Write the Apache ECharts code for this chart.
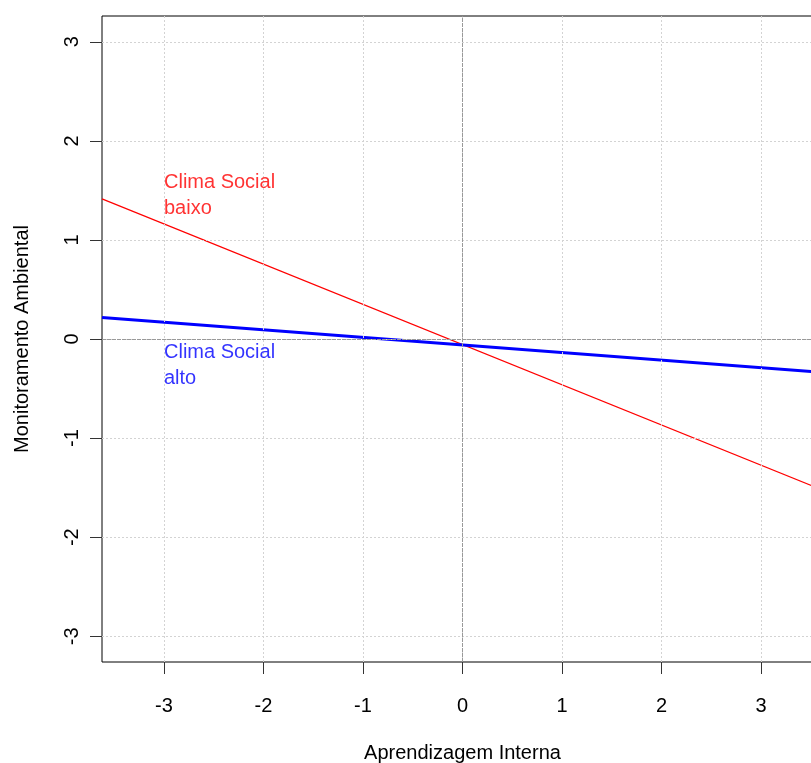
<!DOCTYPE html>
<html>
<head>
<meta charset="utf-8">
<script src="https://cdn.jsdelivr.net/npm/echarts@6/dist/echarts.min.js"></script>
<style>
  html, body { margin: 0; padding: 0; background: #fff; overflow: hidden; }
  #chart { width: 811px; height: 763px; }
</style>
</head>
<body>
<div id="chart"></div>
<script>
// Axis ranges and tick positions
const xRange = [-3.623, 3.623];
const yRange = [-3.26, 3.26];
const xTicks = [-3, -2, -1, 0, 1, 2, 3];
const yTicks = [-3, -2, -1, 0, 1, 2, 3];

// Simple slopes: Monitoramento Ambiental vs Aprendizagem Interna
const lowClimate = [[-3.623, 1.414], [3.623, -1.527]];   // Clima Social baixo
const highClimate = [[-3.623, 0.217], [3.623, -0.337]];  // Clima Social alto

// Line annotations: [x, y, text]
const lowLabel = [-3, 1.45, 'Clima Social\nbaixo'];
const highLabel = [-3, -0.27, 'Clima Social\nalto'];

const FONT = 'Liberation Sans, Arial, Helvetica, sans-serif';

const chart = echarts.init(document.getElementById('chart'), null, { renderer: 'canvas' });

const gridLines = [
  ...xTicks.map(v => ({ xAxis: v })),
  ...yTicks.map(v => ({ yAxis: v }))
];

function annotation(item, color) {
  return {
    type: 'scatter',
    data: [[item[0], item[1]]],
    symbolSize: 0,
    silent: true,
    z: 5,
    label: {
      show: true,
      position: 'right',
      distance: 0,
      formatter: item[2],
      color: color,
      fontFamily: FONT,
      fontSize: 20,
      lineHeight: 26,
      align: 'left',
      verticalAlign: 'middle'
    }
  };
}

chart.setOption({
  animation: false,
  backgroundColor: '#fff',
  grid: {
    left: 102, top: 16, right: -12, bottom: 101,
    outerBoundsMode: 'none',
    containLabel: false,
    show: true, borderColor: '#000', borderWidth: 1, backgroundColor: 'transparent'
  },
  xAxis: {
    type: 'value',
    min: xRange[0], max: xRange[1],
    name: 'Aprendizagem Interna',
    nameLocation: 'middle',
    nameGap: 81,
    nameTextStyle: { fontFamily: FONT, fontSize: 20, color: '#000' },
    axisLine: { show: false, onZero: false },
    splitLine: { show: false },
    axisTick: { show: true, length: 12, customValues: xTicks, lineStyle: { color: '#333' } },
    axisLabel: { customValues: xTicks, margin: 34, fontFamily: FONT, fontSize: 20, color: '#000' }
  },
  yAxis: {
    type: 'value',
    min: yRange[0], max: yRange[1],
    name: 'Monitoramento Ambiental',
    nameLocation: 'middle',
    nameGap: 70,
    nameTextStyle: { fontFamily: FONT, fontSize: 20, color: '#000' },
    axisLine: { show: false, onZero: false },
    splitLine: { show: false },
    axisTick: { show: true, length: 12, customValues: yTicks, lineStyle: { color: '#333' } },
    axisLabel: { customValues: yTicks, rotate: 90, margin: 20, fontFamily: FONT, fontSize: 20, color: '#000' }
  },
  series: [
    {
      // dotted reference grid
      type: 'line',
      data: [],
      silent: true,
      z: 1,
      markLine: {
        silent: true,
        symbol: ['none', 'none'],
        label: { show: false },
        animation: false,
        lineStyle: { color: '#d3d3d3', width: 1, type: [2, 2] },
        data: gridLines
      }
    },
    {
      // zero lines
      type: 'line',
      data: [],
      silent: true,
      z: 2,
      markLine: {
        silent: true,
        symbol: ['none', 'none'],
        label: { show: false },
        animation: false,
        lineStyle: { color: '#999', width: 1, type: [4, 1] },
        data: [{ xAxis: 0 }, { yAxis: 0 }]
      }
    },
    {
      name: 'Clima Social baixo',
      type: 'line',
      data: lowClimate,
      showSymbol: false,
      z: 3,
      lineStyle: { color: '#ff0000', width: 1.2 }
    },
    {
      name: 'Clima Social alto',
      type: 'line',
      data: highClimate,
      showSymbol: false,
      z: 4,
      lineStyle: { color: '#0000ff', width: 3 }
    },
    annotation(lowLabel, '#ff0000'),
    annotation(highLabel, '#0000ff')
  ]
});
</script>
</body>
</html>
